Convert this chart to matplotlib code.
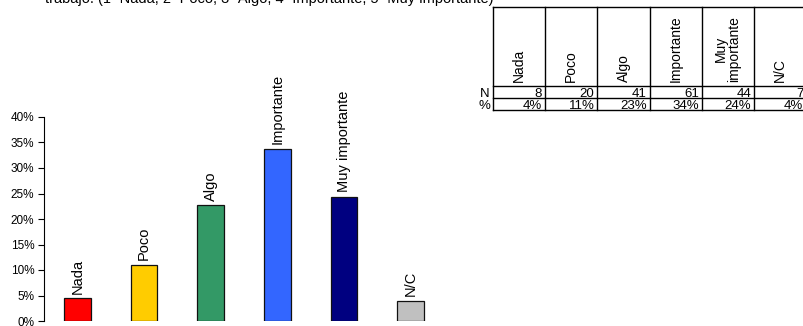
import numpy as np
import matplotlib.pyplot as plt

plt.rcParams['font.family'] = ['Liberation Sans', 'DejaVu Sans']

categories = ['Nada', 'Poco', 'Algo', 'Importante', 'Muy importante', 'N/C']
table_headers = ['Nada', 'Poco', 'Algo', 'Importante', 'Muy\nimportante', 'N/C']
counts = [8, 20, 41, 61, 44, 7]
colors = ['#FF0000', '#FFCC00', '#339966', '#3366FF', '#000080', '#C0C0C0']
title = 'trabajo. (1=Nada, 2=Poco, 3=Algo, 4=Importante, 5=Muy importante)'

share = np.array(counts) / sum(counts)

W, H = 804, 326
fig = plt.figure(figsize=(W / 100, H / 100), dpi=100)

# bar chart
ax = fig.add_axes([44 / W, 5 / H, 400 / W, 204 / H])
x = np.arange(len(categories))
ax.bar(x, share, width=0.4, color=colors, edgecolor='#111111', linewidth=0.9)
for xi, v, lab in zip(x, share, categories):
    ax.annotate(lab, (xi, v), xytext=(0, 3.5), textcoords='offset points',
                rotation=90, ha='center', va='bottom', fontsize=10.5)
ax.set_xlim(-0.5, len(categories) - 0.5)
ax.set_ylim(0, 0.40)
ticks = np.arange(0, 0.401, 0.05)
ax.set_yticks(ticks)
ax.set_yticklabels(['%d%%' % round(t * 100) for t in ticks], fontsize=8.5)
ax.tick_params(axis='y', length=4, width=0.8, pad=3)
ax.set_xticks([])
for s in ['top', 'right', 'bottom']:
    ax.spines[s].set_visible(False)
ax.spines['left'].set_linewidth(0.8)

# overlay in pixel coordinates for title and data table
ov = fig.add_axes([0, 0, 1, 1])
ov.set_xlim(0, W)
ov.set_ylim(H, 0)
ov.axis('off')
ov.text(45, 3, title, ha='left', va='baseline', fontsize=10.5)

col_w = 52.2
x0, y_top, y_head, y_n, y_bot = 493, 7, 86, 98, 110
xs = [x0 + i * col_w for i in range(len(counts) + 1)]
for yv in [y_top, y_head, y_n, y_bot]:
    ov.plot([x0, W + 10], [yv, yv], color='black', lw=1)
for xv in xs:
    ov.plot([xv, xv], [y_top, y_bot], color='black', lw=1)

pct = ['%d%%' % round(p * 100) for p in share]
for i, (hdr, n, p) in enumerate(zip(table_headers, counts, pct)):
    left = xs[i]
    ov.text(left + col_w / 2, y_head - 4, hdr, rotation=90, ha='center', va='bottom',
            fontsize=10, linespacing=0.95)
    ov.text(left + col_w - 3, y_n - 1, str(n), ha='right', va='baseline', fontsize=9.5)
    ov.text(left + col_w - 3, y_bot - 1, p, ha='right', va='baseline', fontsize=9.5)
ov.text(x0 - 3, y_n - 1, 'N', ha='right', va='baseline', fontsize=9.5)
ov.text(x0 - 3, y_bot - 1, '%', ha='right', va='baseline', fontsize=9.5)

fig.savefig('out.png', dpi=100)
